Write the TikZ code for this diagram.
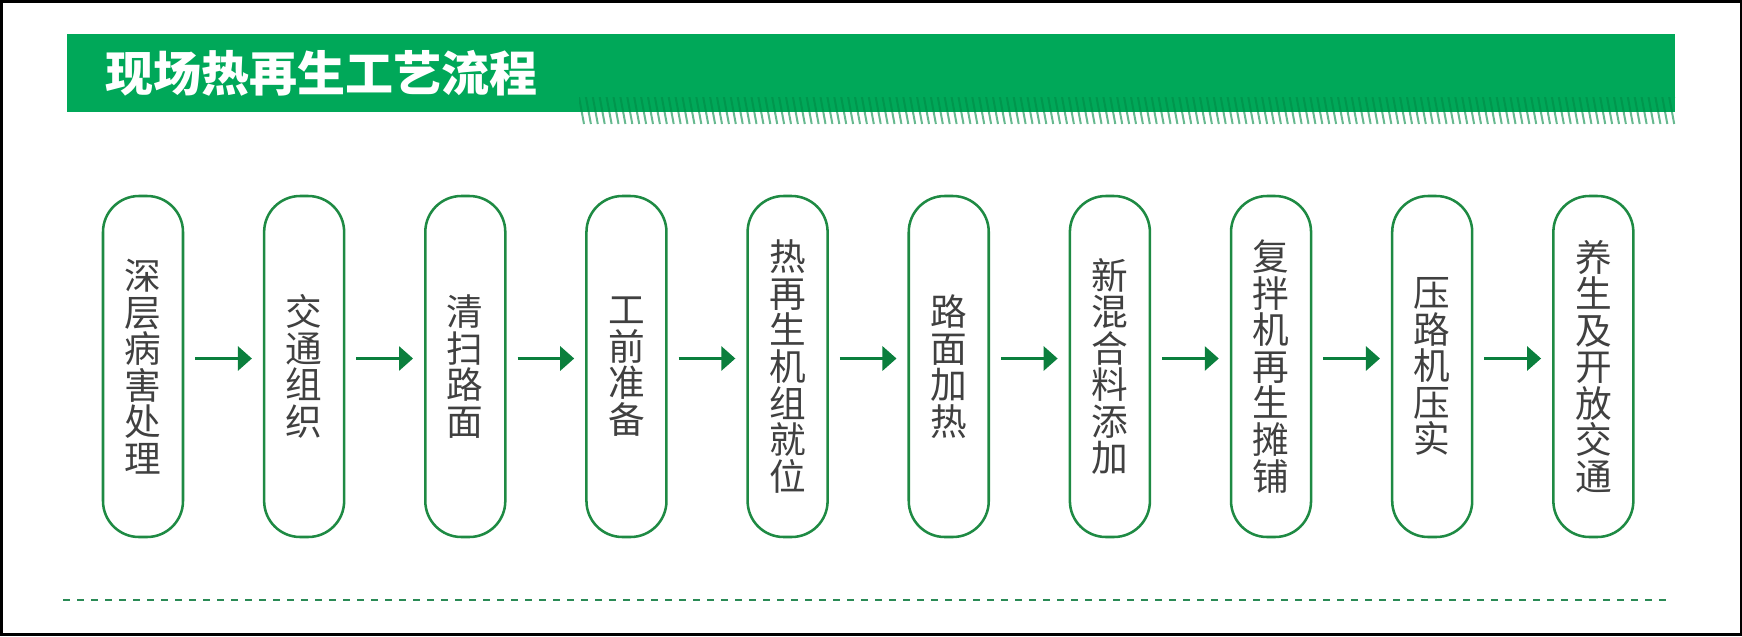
\documentclass[tikz,border=0pt]{standalone}
\usepackage{fontspec}
\setmainfont{Noto Sans CJK SC}
\usetikzlibrary{arrows.meta}

\definecolor{barGreen}{HTML}{00A859}
\definecolor{boxGreen}{HTML}{1E8A43}
\definecolor{arrowGreen}{HTML}{0B7F3D}
\definecolor{hatchGreen}{HTML}{008A45}
\definecolor{dashGreen}{HTML}{2A8A55}
\definecolor{textGray}{HTML}{404040}

\tikzset{
  stepbox/.style={draw=boxGreen, line width=1.9pt, rounded corners=27pt,
    minimum width=60pt, minimum height=255.75pt, inner sep=0pt, align=center,
    text=textGray, font=\fontsize{27.5}{27.4}\selectfont},
  flowarrow/.style={draw=arrowGreen, line width=2.25pt,
    -{Triangle[length=10.5pt,width=18pt]}, shorten <=8.25pt, shorten >=8.25pt},
  titletext/.style={anchor=west, inner sep=0pt, text=white,
    font=\bfseries\fontsize{36}{36}\selectfont}
}

\begin{document}
\begin{tikzpicture}[x=0.75pt, y=-0.75pt]
        \useasboundingbox (0,0) rectangle (1742,636);

        % Rahmen
        \draw[line width=1.9pt] (1.25,1.25) rectangle (1740.75,634.75);

        % Titelbalken
        \fill[barGreen] (67,34) rectangle (1675,112);
        \node[titletext] (title) at (105,73) {现场热再生工艺流程};

        % Schraffur unter dem Balken
        \begin{scope}
          \clip (579,97) rectangle (1675,124);
          \foreach \k in {0,...,160}
            \draw[hatchGreen, opacity=0.6, line width=1.5pt]
              ({579+6.9*\k},97) -- ({584+6.9*\k},124);
        \end{scope}

        % Arbeitsschritte
        \foreach \lbl [count=\i] in {%
            {深\\层\\病\\害\\处\\理},
            {交\\通\\组\\织},
            {清\\扫\\路\\面},
            {工\\前\\准\\备},
            {热\\再\\生\\机\\组\\就\\位},
            {路\\面\\加\\热},
            {新\\混\\合\\料\\添\\加},
            {复\\拌\\机\\再\\生\\摊\\铺},
            {压\\路\\机\\压\\实},
            {养\\生\\及\\开\\放\\交\\通}}
          \node[stepbox] (b\i) at ({143+161.15*(\i-1)},366.5) {\lbl};

        % Pfeile
        \foreach \i in {1,...,9} {
          \pgfmathtruncatemacro\j{\i+1}
          \draw[flowarrow] ([yshift=6pt]b\i.east) -- ([yshift=6pt]b\j.west);
        }

        % gestrichelte Linie unten
        \draw[dashGreen, line width=1.5pt, dash pattern=on 5.25pt off 5.25pt]
          (63,600) -- (1668,600);
\end{tikzpicture}
\end{document}
